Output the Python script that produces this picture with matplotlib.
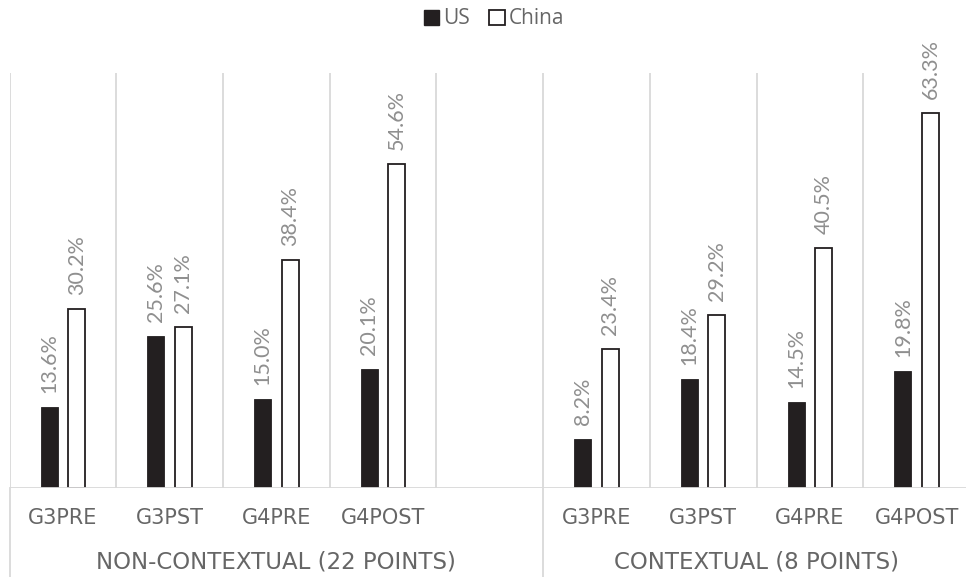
import matplotlib.pyplot as plt
import matplotlib.transforms as mtransforms
from matplotlib.patches import Patch
import numpy as np

plt.rcParams['font.family'] = ['Lato', 'DejaVu Sans']

groups = ['NON-CONTEXTUAL (22 POINTS)', 'CONTEXTUAL (8 POINTS)']
categories = ['G3PRE', 'G3PST', 'G4PRE', 'G4POST']
us = [[13.6, 25.6, 15.0, 20.1], [8.2, 18.4, 14.5, 19.8]]
china = [[30.2, 27.1, 38.4, 54.6], [23.4, 29.2, 40.5, 63.3]]

# slot layout: 4 categories + 1 empty slot, then 4 categories
slots = [[0, 1, 2, 3], [5, 6, 7, 8]]
group_span = [(-0.5, 4.5), (4.5, 8.5)]

dark = '#231f20'
grid = '#d9d9d9'
label_grey = '#8f8f8f'
text_grey = '#666666'

fig = plt.figure(figsize=(9.66, 5.77), dpi=100)
ax = fig.add_axes([9.5 / 966, 89 / 577, 960.5 / 966, 415 / 577])

w = 0.16
off = 0.129
for g in range(2):
    x = np.array(slots[g])
    b1 = ax.bar(x - off, us[g], w, color=dark, edgecolor=dark, linewidth=0.6, zorder=2)
    b2 = ax.bar(x + off, china[g], w, color='white', edgecolor=dark, linewidth=1.3, zorder=2)
    for bars, vals in ((b1, us[g]), (b2, china[g])):
        for r, v in zip(bars, vals):
            ax.annotate(f'{v:.1f}%', (r.get_x() + r.get_width() / 2, v),
                        xytext=(0, 10), textcoords='offset points',
                        rotation=90, ha='center', va='bottom',
                        fontsize=15.5, color=label_grey)

ax.set_xlim(-0.5, 8.5)
ax.set_ylim(0, 70)
ax.axis('off')

# vertical gridlines between categories
for xg in np.arange(-0.5, 9, 1.0):
    ax.plot([xg, xg], [0, 70], color=grid, lw=1.3, zorder=1)
ax.axhline(0, color=grid, lw=1.3, zorder=3)

# group separators extending into the label area
trans = mtransforms.blended_transform_factory(ax.transData, ax.transAxes)
for xg in (-0.5, 4.5, 8.5):
    ax.plot([xg, xg], [0, -0.3], color=grid, lw=1.3, transform=trans, clip_on=False)

for g in range(2):
    for s, c in zip(slots[g], categories):
        ax.text(s, -0.072, c, transform=trans, ha='center', va='center',
                fontsize=15, color=text_grey, family='DejaVu Sans')
    lo, hi = group_span[g]
    ax.text((lo + hi) / 2, -0.178, groups[g], transform=trans, ha='center', va='center',
            fontsize=16.5, color=text_grey, family='DejaVu Sans')

handles = [Patch(facecolor=dark, edgecolor=dark), Patch(facecolor='white', edgecolor=dark, linewidth=1.3)]
leg = fig.legend(handles, ['US', 'China'], loc='center', bbox_to_anchor=(494 / 966, 1 - 19 / 577),
                 ncol=2, frameon=False, handlelength=0.75, handleheight=0.75,
                 handletextpad=0.2, columnspacing=0.9, labelcolor=text_grey,
                 prop={'family': 'Open Sans', 'size': 15})

fig.savefig('out.png', dpi=100)
